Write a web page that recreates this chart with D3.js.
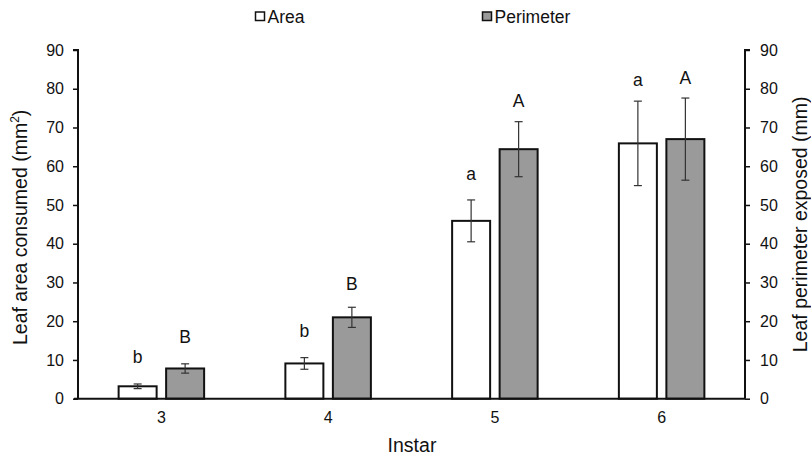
<!DOCTYPE html>
<html>
<head>
<meta charset="utf-8">
<script src="https://cdn.jsdelivr.net/npm/d3@7/dist/d3.min.js"></script>
<style>
  body { margin: 0; background: #fff; }
  svg text { font-family: Arial, "Liberation Sans", sans-serif; fill: #111; }
</style>
</head>
<body>
<div id="chart"></div>
<script>
// data
let instars = ["3", "4", "5", "6"];
let series = ["Area", "Perimeter"];
let areaMean = [3.2, 9.1, 45.9, 65.9];
let areaErr = [0.6, 1.5, 5.4, 10.9];
let perimMean = [7.8, 21.0, 64.4, 67.0];
let perimErr = [1.2, 2.6, 7.1, 10.6];
let areaLetters = ["b", "b", "a", "a"];
let perimLetters = ["B", "B", "A", "A"];
// letter baselines in axis units
let areaLetterY = [9.3, 15.8, 56.5, 80.7];
let perimLetterY = [14.5, 28.0, 75.2, 81.2];
let yTicks = [0, 10, 20, 30, 40, 50, 60, 70, 80, 90];

let width = 811, height = 456;
let margin = { top: 50, right: 66, bottom: 57.3, left: 78 };
let fills = { Area: "#ffffff", Perimeter: "#9a9a9a" };

let rows = instars.map(function (d, i) {
	return {
		instar: d,
		bars: [
			{ key: "Area", v: areaMean[i], e: areaErr[i], lab: areaLetters[i], ly: areaLetterY[i] },
			{ key: "Perimeter", v: perimMean[i], e: perimErr[i], lab: perimLetters[i], ly: perimLetterY[i] }
		]
	};
});

let svg = d3.select("#chart").append("svg")
	.attr("width", width)
	.attr("height", height);

let x0 = d3.scaleBand()
	.domain(instars)
	.range([margin.left, width - margin.right]);

let x1 = d3.scaleBand()
	.domain(series)
	.range([-42.75, 42.75])
	.paddingInner(0.2);

let yL = d3.scaleLinear().domain([0, 90]).range([height - margin.bottom, margin.top]);
let yR = d3.scaleLinear().domain([0, 90]).range([height - margin.bottom, margin.top]);

// bars
let groups = svg.selectAll("g.grp")
	.data(rows)
	.enter().append("g")
	.attr("class", "grp")
	.attr("transform", function (d) { return "translate(" + (x0(d.instar) + x0.bandwidth() / 2) + ",0)"; });

groups.selectAll("rect")
	.data(function (d) { return d.bars; })
	.enter().append("rect")
	.attr("x", function (d) { return x1(d.key); })
	.attr("y", function (d) { return yL(d.v); })
	.attr("width", x1.bandwidth())
	.attr("height", function (d) { return yL(0) - yL(d.v); })
	.attr("fill", function (d) { return fills[d.key]; })
	.attr("stroke", "#111")
	.attr("stroke-width", 2);

// error bars
let eb = groups.selectAll("g.err")
	.data(function (d) { return d.bars; })
	.enter().append("g")
	.attr("class", "err")
	.attr("stroke", "#333")
	.attr("stroke-width", 1.2);
let cx = function (d) { return x1(d.key) + x1.bandwidth() / 2; };
eb.append("line")
	.attr("x1", cx).attr("x2", cx)
	.attr("y1", function (d) { return yL(d.v - d.e); })
	.attr("y2", function (d) { return yL(d.v + d.e); });
[-1, 1].forEach(function (s) {
	eb.append("line")
		.attr("x1", function (d) { return cx(d) - 4; })
		.attr("x2", function (d) { return cx(d) + 4; })
		.attr("y1", function (d) { return yL(d.v + s * d.e); })
		.attr("y2", function (d) { return yL(d.v + s * d.e); });
});

// significance letters
groups.selectAll("text.lab")
	.data(function (d) { return d.bars; })
	.enter().append("text")
	.attr("class", "lab")
	.attr("x", cx)
	.attr("y", function (d) { return yL(d.ly); })
	.attr("text-anchor", "middle")
	.style("font-size", "17.5px")
	.text(function (d) { return d.lab; });

// axes
let axL = svg.append("g")
	.attr("transform", "translate(" + margin.left + ",0)")
	.call(d3.axisLeft(yL).tickValues(yTicks).tickSize(5).tickPadding(9).tickSizeOuter(0));
let axR = svg.append("g")
	.attr("transform", "translate(" + (width - margin.right) + ",0)")
	.call(d3.axisRight(yR).tickValues(yTicks).tickSize(5).tickPadding(10).tickSizeOuter(0));
let axX = svg.append("g")
	.attr("transform", "translate(0," + yL(0) + ")")
	.call(d3.axisBottom(x0).tickSize(0).tickPadding(13).tickSizeOuter(0));

[axL, axR, axX].forEach(function (a) {
	a.selectAll("path, line").attr("stroke", "#111").attr("stroke-width", 1.5);
	a.selectAll("text").style("font-size", "16px").attr("fill", "#111");
	a.select(".domain").attr("stroke-width", 2);
});
axL.select(".domain").attr("d", "M0," + yL(0) + "V" + yL(90) + "H-5");
axR.select(".domain").attr("d", "M0," + yR(0) + "V" + yR(90) + "H5");
axX.select(".domain").attr("d", "M" + (margin.left - 4) + ",0H" + (width - margin.right));

// axis titles
svg.append("text")
	.attr("transform", "translate(27," + ((yL(0) + yL(90)) / 2 + 3) + ") rotate(-90)")
	.attr("text-anchor", "middle")
	.style("font-size", "19.5px")
	.html('Leaf area consumed (mm<tspan dy="-8" style="font-size:12px">2</tspan><tspan dy="8">)</tspan>');

svg.append("text")
	.attr("transform", "translate(807," + ((yR(0) + yR(90)) / 2) + ") rotate(-90)")
	.attr("text-anchor", "middle")
	.style("font-size", "19.5px")
	.text("Leaf perimeter exposed (mm)");

svg.append("text")
	.attr("x", 412)
	.attr("y", 452)
	.attr("text-anchor", "middle")
	.style("font-size", "19.5px")
	.text("Instar");

// legend
let legX = [255, 482];
let leg = svg.selectAll("g.leg")
	.data(series)
	.enter().append("g")
	.attr("class", "leg")
	.attr("transform", function (d, i) { return "translate(" + legX[i] + ",0)"; });
leg.append("rect")
	.attr("x", 0.5).attr("y", 12)
	.attr("width", 9).attr("height", 8.5)
	.attr("fill", function (d) { return fills[d]; })
	.attr("stroke", "#111")
	.attr("stroke-width", 1.5);
leg.append("text")
	.attr("x", 12.5)
	.attr("y", 22.5)
	.style("font-size", "17.5px")
	.text(function (d) { return d; });
</script>
</body>
</html>
